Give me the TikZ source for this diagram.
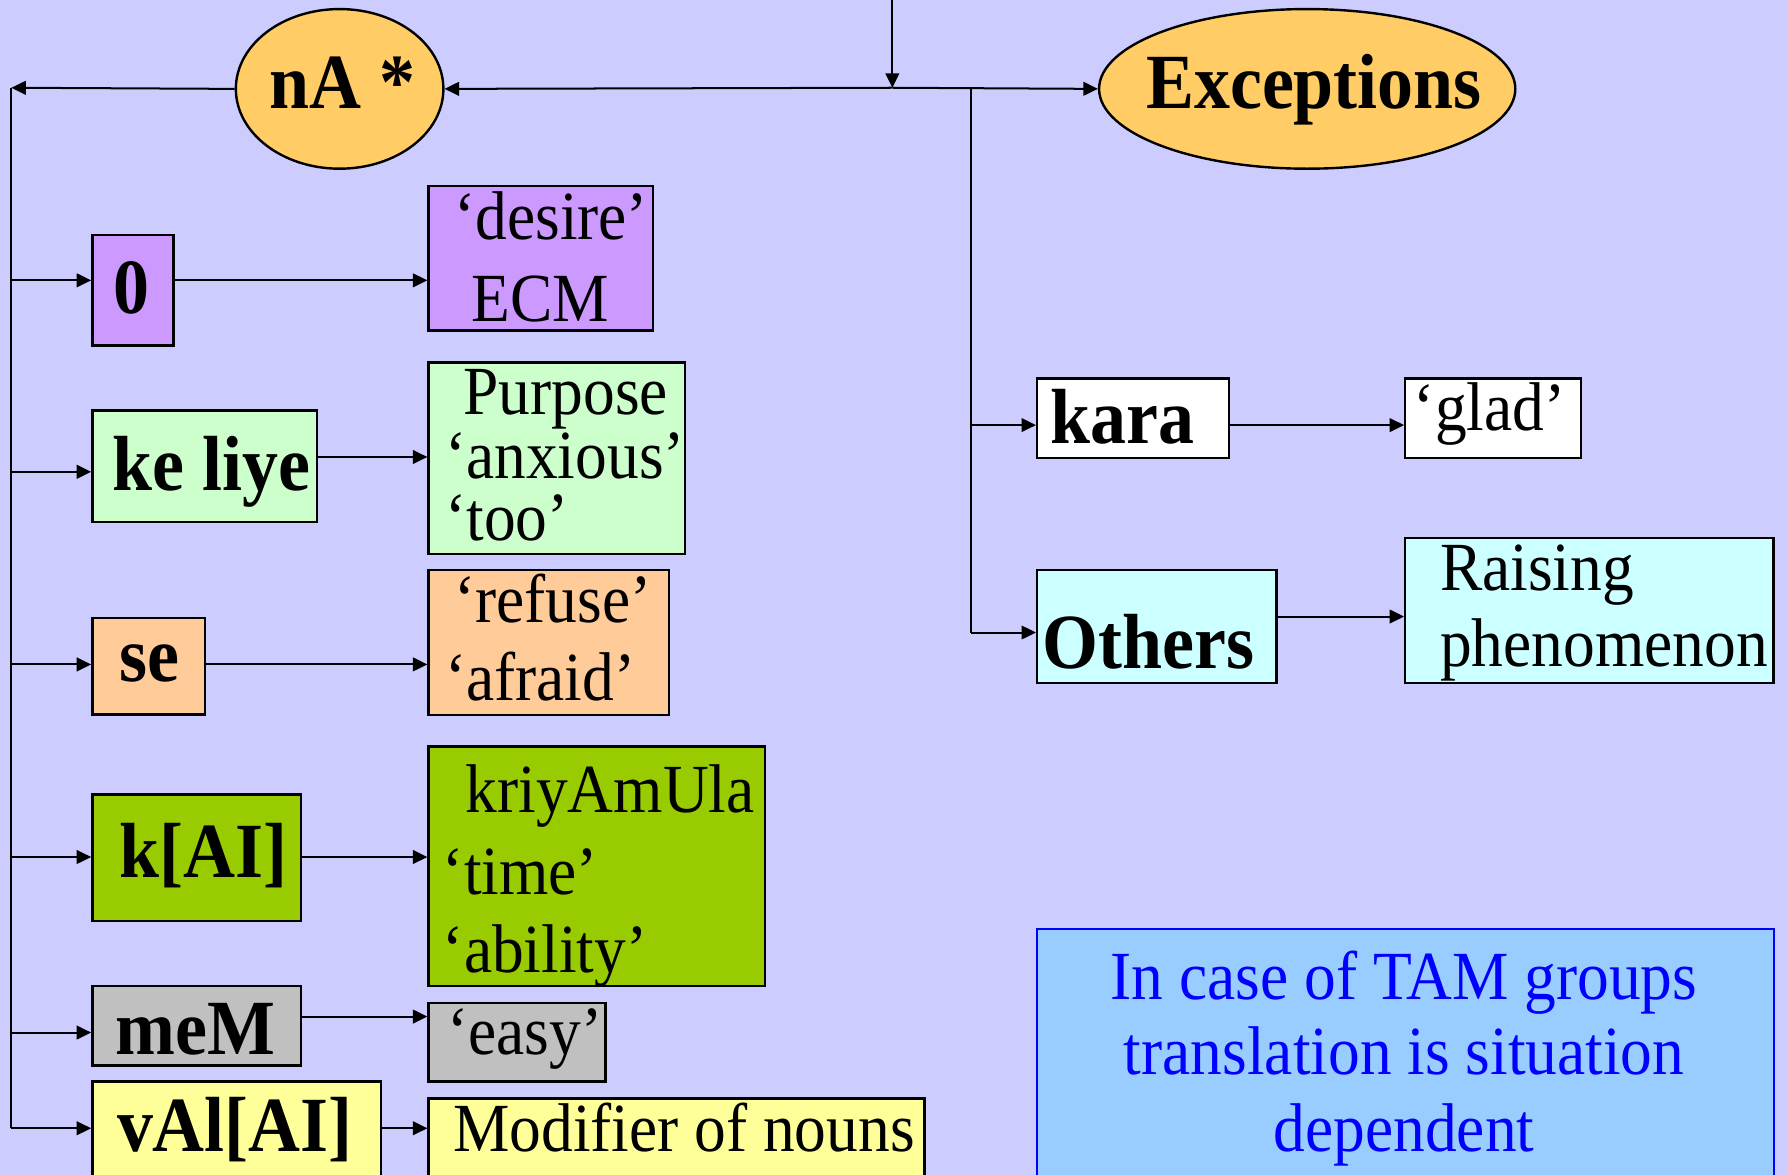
\documentclass[tikz,border=0pt]{standalone}
\usepackage{fontspec}
\setmainfont[FakeStretch=0.92]{Liberation Serif}
\usetikzlibrary{arrows.meta,shapes.geometric}
\definecolor{bg}{HTML}{CCCCFF}
\definecolor{orng}{HTML}{FFCC66}
\definecolor{purp}{HTML}{CC99FF}
\definecolor{lgreen}{HTML}{CCFFCC}
\definecolor{peach}{HTML}{FFCC99}
\definecolor{dgreen}{HTML}{99CC00}
\definecolor{gry}{HTML}{C0C0C0}
\definecolor{ylw}{HTML}{FFFF99}
\definecolor{cyn}{HTML}{CCFFFF}
\definecolor{lblue}{HTML}{99CCFF}
\definecolor{tblue}{HTML}{0000FF}
\tikzset{
  box/.style={draw=black, line width=0.6pt, rectangle, inner sep=0pt, anchor=north west},
  oval/.style={draw=black, line width=0.6pt, ellipse, fill=orng, inner sep=0pt},
  arr/.style={-{Triangle[length=3.6pt,width=3.4pt]}, line width=0.5pt},
  ln/.style={line width=0.5pt},
  tn/.style={inner sep=0pt, anchor=base west, font=\fontsize{17.2}{20}\selectfont},
  tb/.style={inner sep=0pt, anchor=base west, font=\fontsize{19.5}{22}\selectfont\bfseries},
}
\begin{document}
\begin{tikzpicture}[x=0.01cm,y=-0.01cm]
\clip (0,0) rectangle (1568,1031);
\fill[bg] (0,0) rectangle (1568,1031);
% ellipses
\node[oval, minimum width=1.82cm, minimum height=1.40cm] (nA) at (298,78) {};
\node[oval, minimum width=3.65cm, minimum height=1.40cm] (exc) at (1147,78) {};
\node[tb] (tnA) at (236,95) {nA *};
\node[tb] (texc) at (1005,95) {Exceptions};
% left boxes
\node[box, fill=purp, minimum width=0.71cm, minimum height=0.97cm] (b0) at (80,205) {};
\node[box, fill=lgreen, minimum width=1.97cm, minimum height=0.98cm] (bke) at (80,359) {};
\node[box, fill=peach, minimum width=0.99cm, minimum height=0.85cm] (bse) at (80,541) {};
\node[box, fill=dgreen, minimum width=1.83cm, minimum height=1.11cm] (bkai) at (80,696) {};
\node[box, fill=gry, minimum width=1.83cm, minimum height=0.70cm] (bmem) at (80,864) {};
\node[box, fill=ylw, minimum width=2.53cm, minimum height=0.92cm] (bval) at (80,948) {};
% right boxes
\node[box, fill=purp, minimum width=1.97cm, minimum height=1.27cm] (rdes) at (375,162) {};
\node[box, fill=lgreen, minimum width=2.25cm, minimum height=1.68cm] (rpur) at (375,317) {};
\node[box, fill=peach, minimum width=2.11cm, minimum height=1.27cm] (rref) at (375,499) {};
\node[box, fill=dgreen, minimum width=2.95cm, minimum height=2.10cm] (rkri) at (375,654) {};
\node[box, fill=gry, minimum width=1.55cm, minimum height=0.69cm] (reas) at (375,879) {};
\node[box, fill=ylw, minimum width=4.35cm, minimum height=0.77cm] (rmod) at (375,963) {};
% exceptions side
\node[box, fill=white, minimum width=1.68cm, minimum height=0.70cm] (kara) at (909,331) {};
\node[box, fill=white, minimum width=1.54cm, minimum height=0.70cm] (glad) at (1232,331) {};
\node[box, fill=cyn, minimum width=2.10cm, minimum height=0.99cm] (oth) at (909,499) {};
\node[box, fill=cyn, minimum width=3.23cm, minimum height=1.27cm] (rais) at (1232,471) {};
\node[box, draw=tblue, fill=lblue, minimum width=6.46cm, minimum height=2.26cm] (note) at (909,814) {};
% texts
\node[tb, anchor=base] (t0) at (115.5,275) {0};
\node[tb] (tke) at (98,430) {ke liye};
\node[tb] (tse) at (104,598) {se};
\node[tb] (tkai) at (104,770) {k[AI]};
\node[tb] (tmem) at (101,925) {meM};
\node[tb] (tval) at (102,1010) {vAl[AI]};
\node[tn] (tdes) at (398,210) {‘desire’};
\node[tn] (tecm) at (413,282) {ECM};
\node[tn] (tpur) at (406,364) {Purpose};
\node[tn] (tanx) at (390,420) {‘anxious’};
\node[tn] (ttoo) at (390,474) {‘too’};
\node[tn] (tref) at (398,546) {‘refuse’};
\node[tn] (tafr) at (390,615) {‘afraid’};
\node[tn] (tkri) at (408,713) {kriyAmUla};
\node[tn] (ttim) at (388,785) {‘time’};
\node[tn] (tabi) at (388,853) {‘ability’};
\node[tn] (teas) at (392,925) {‘easy’};
\node[tn] (tmod) at (397,1010) {Modifier of nouns};
\node[tb] (tkara) at (921,389) {kara};
\node[tb] (toth) at (914,587) {Others};
\node[tn] (tglad) at (1240,378) {‘glad’};
\node[tn] (trai) at (1263,518) {Raising};
\node[tn] (tphe) at (1263,585) {phenomenon};
\node[tn, anchor=base, text=tblue] (n1) at (1232,877) {In case of TAM groups};
\node[tn, anchor=base, text=tblue] (n2) at (1232,943) {translation is situation};
\node[tn, anchor=base, text=tblue] (n3) at (1232,1010) {dependent};
% connector points
\coordinate (top) at (783,0);
\coordinate (junc) at (783,77);
\coordinate (L) at (10,77);
\coordinate (r0) at (10,246);
\coordinate (rke) at (10,414);
\coordinate (rse) at (10,583);
\coordinate (rkai) at (10,752);
\coordinate (rmem) at (10,906);
\coordinate (Lb) at (10,990);
\coordinate (kes) at (277,401);
\coordinate (mes) at (263,892);
\coordinate (J2) at (852,77);
\coordinate (rk) at (852,373);
\coordinate (ro) at (852,555);
\coordinate (os) at (1119,541);
% connectors
\draw[arr] (top) -- (junc);
\draw[arr] (junc) -- (nA.east);
\draw[arr] (junc) -- (exc.west);
\draw[arr] (nA.west) -- (L);
\draw[ln] (L) -- (Lb);
\draw[arr] (r0) -- (b0.west |- r0);
\draw[arr] (rke) -- (bke.west |- rke);
\draw[arr] (rse) -- (bse.west |- rse);
\draw[arr] (rkai) -- (bkai.west |- rkai);
\draw[arr] (rmem) -- (bmem.west |- rmem);
\draw[arr] (Lb) -- (bval.west |- Lb);
\draw[arr] (b0.east |- r0) -- (rdes.west |- r0);
\draw[arr] (kes) -- (rpur.west |- kes);
\draw[arr] (bse.east |- rse) -- (rref.west |- rse);
\draw[arr] (bkai.east |- rkai) -- (rkri.west |- rkai);
\draw[arr] (mes) -- (reas.west |- mes);
\draw[arr] (bval.east |- Lb) -- (rmod.west |- Lb);
\draw[ln] (J2) -- (ro);
\draw[arr] (rk) -- (kara.west |- rk);
\draw[arr] (ro) -- (oth.west |- ro);
\draw[arr] (kara.east |- rk) -- (glad.west |- rk);
\draw[arr] (os) -- (rais.west |- os);
\end{tikzpicture}
\end{document}
